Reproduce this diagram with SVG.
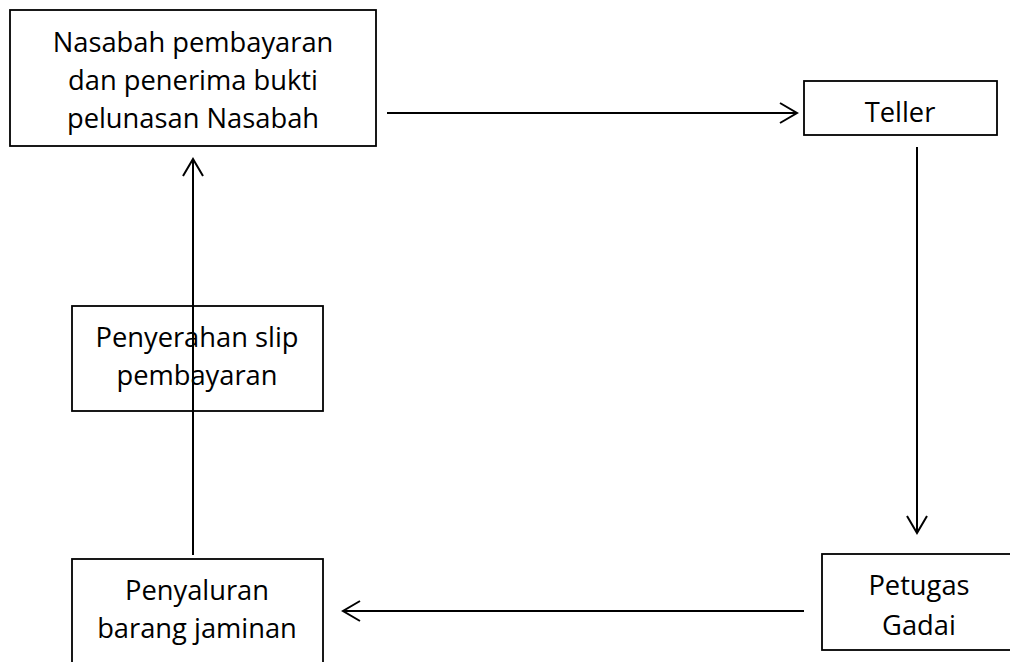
<svg xmlns="http://www.w3.org/2000/svg" width="1010" height="662" viewBox="0 0 1010 662">
<style>
.box{fill:#fff;stroke:#000;stroke-width:1.8}
.lbl{font-family:"Open Sans","Noto Sans","Liberation Sans",sans-serif;font-size:27.3px;fill:#000;text-anchor:middle}
.con{stroke:#000;stroke-width:2;fill:none}
</style>
<defs>
<marker id="ah" markerUnits="userSpaceOnUse" markerWidth="22" markerHeight="26" viewBox="-19 -13 22 26" refX="0" refY="0" orient="auto">
<path d="M-17,-10 L0,0 L-17,10" fill="none" stroke="#000" stroke-width="2"/>
</marker>
</defs>
<rect width="1010" height="662" fill="#fff"/>
<g id="n1"><rect class="box" x="10" y="10" width="366" height="136"/>
<text class="lbl" x="193" y="52">Nasabah pembayaran</text>
<text class="lbl" x="193" y="90">dan penerima bukti</text>
<text class="lbl" x="193" y="128">pelunasan Nasabah</text></g>
<g id="teller"><rect class="box" x="804" y="81" width="193" height="54"/>
<text class="lbl" x="900" y="122">Teller</text></g>
<g id="penyerahan"><rect class="box" x="72" y="306" width="251" height="105"/>
<text class="lbl" x="197" y="347">Penyerahan slip</text>
<text class="lbl" x="197" y="385">pembayaran</text></g>
<g id="penyaluran"><rect class="box" x="72" y="559" width="251" height="110"/>
<text class="lbl" x="197" y="600">Penyaluran</text>
<text class="lbl" x="197" y="638">barang jaminan</text></g>
<g id="petugas"><rect class="box" x="822" y="554" width="200" height="96"/>
<text class="lbl" x="919" y="595">Petugas</text>
<text class="lbl" x="919" y="635">Gadai</text></g>
<g id="connectors">
<line class="con" x1="387" y1="113" x2="797" y2="113" marker-end="url(#ah)"/>
<line class="con" x1="917" y1="147" x2="917" y2="533" marker-end="url(#ah)"/>
<line class="con" x1="804" y1="611" x2="343" y2="611" marker-end="url(#ah)"/>
<line class="con" x1="193" y1="555" x2="193" y2="159" marker-end="url(#ah)"/>
</g>
</svg>
